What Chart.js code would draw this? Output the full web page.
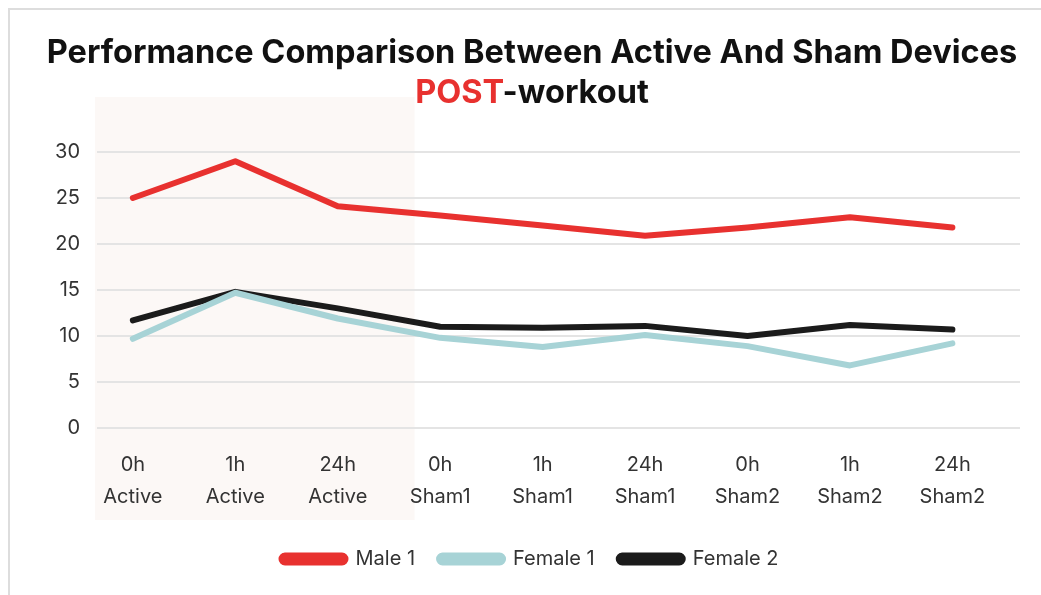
<!DOCTYPE html>
<html>
<head>
<meta charset="utf-8">
<script src="https://cdn.jsdelivr.net/npm/chart.js@4.4.1/dist/chart.umd.min.js"></script>
<style>
  html, body { margin: 0; padding: 0; background: #ffffff; }
  body { width: 1041px; height: 595px; position: relative; overflow: hidden; font-family: Inter, "Open Sans", sans-serif; }
  #card { position: absolute; left: 8px; top: 8px; width: 1100px; height: 700px; border-left: 2px solid #dddddd; border-top: 2px solid #dddddd; box-sizing: border-box; }
  #title { position: absolute; left: 0; width: 1064px; top: 32px; text-align: center; font-weight: 700; font-size: 32.5px; line-height: 40px; color: #111111; z-index: 2; }
  #title .red { color: #e8312f; }
  #wrap { position: absolute; left: 0; top: 0; width: 1041px; height: 595px; }
</style>
</head>
<body>
<div id="card"></div>
<div id="wrap"><canvas id="c" width="1041" height="595"></canvas></div>
<div id="title">Performance Comparison Between Active And Sham Devices<br><span class="red">POST</span>-workout</div>
<script>
const timepoints = ["0h", "1h", "24h", "0h", "1h", "24h", "0h", "1h", "24h"];
const devices = ["Active", "Active", "Active", "Sham1", "Sham1", "Sham1", "Sham2", "Sham2", "Sham2"];
const male1 = [25.0, 29.0, 24.1, 23.1, 22.0, 20.9, 21.8, 22.9, 21.8];
const female1 = [9.7, 14.7, 11.9, 9.8, 8.8, 10.1, 8.9, 6.8, 9.2];
const female2 = [11.7, 14.8, 13.0, 11.0, 10.9, 11.1, 10.0, 11.2, 10.7];
const yTicks = [0, 5, 10, 15, 20, 25, 30];

const toPoints = arr => arr.map((v, i) => ({ x: i, y: v }));

const shadePlugin = {
  id: 'shade',
  beforeDraw(chart) {
    const { ctx, scales } = chart;
    const x0 = 95;
    const x1 = scales.x.getPixelForValue(2.75);
    ctx.save();
    ctx.fillStyle = '#fcf8f6';
    ctx.fillRect(x0, 97, x1 - x0, 423);
    ctx.restore();
  }
};

const legendShift = {
  id: 'legendShift',
  afterLayout(chart) {
    if (chart.legend) {
      chart.legend.left += 20;
      chart.legend.right += 20;
    }
  }
};

new Chart(document.getElementById('c'), {
  type: 'line',
  data: {
    datasets: [
      { label: 'Male 1', data: toPoints(male1), borderColor: '#e8312f', backgroundColor: '#e8312f' },
      { label: 'Female 1', data: toPoints(female1), borderColor: '#a7d3d6', backgroundColor: '#a7d3d6' },
      { label: 'Female 2', data: toPoints(female2), borderColor: '#1b1b1b', backgroundColor: '#1b1b1b' }
    ]
  },
  options: {
    responsive: false,
    animation: false,
    layout: { padding: { top: 152, right: 21, left: 0, bottom: 16 } },
    elements: {
      line: { borderWidth: 6, tension: 0, borderCapStyle: 'round', borderJoinStyle: 'round' },
      point: { radius: 0, hoverRadius: 0 }
    },
    scales: {
      x: {
        type: 'linear',
        min: -0.35,
        max: 8.66,
        afterBuildTicks: s => { s.ticks = timepoints.map((_, i) => ({ value: i })); },
        afterFit: s => { s.height = 97; },
        grid: { display: false, drawTicks: false },
        border: { display: false },
        ticks: {
          color: '#333333',
          font: { family: 'Inter', size: 20, lineHeight: 1.6 },
          padding: 21,
          maxRotation: 0,
          autoSkip: false,
          callback: (v) => [timepoints[v], devices[v]]
        }
      },
      y: {
        min: 0,
        max: 30,
        afterBuildTicks: s => { s.ticks = yTicks.map(v => ({ value: v })); },
        afterFit: s => { s.width = 97; },
        grid: { color: '#e4e4e4', lineWidth: 2, drawTicks: false },
        border: { display: false },
        ticks: {
          color: '#333333',
          font: { family: 'Inter', size: 20 },
          padding: 17
        }
      }
    },
    plugins: {
      title: { display: false },
      tooltip: { enabled: false },
      legend: {
        position: 'bottom',
        labels: {
          boxWidth: 64,
          boxHeight: 7,
          useBorderRadius: true,
          borderRadius: 3.5,
          padding: 24,
          color: '#333333',
          font: { family: 'Inter', size: 20 }
        }
      }
    }
  },
  plugins: [shadePlugin, legendShift]
});
</script>
</body>
</html>
